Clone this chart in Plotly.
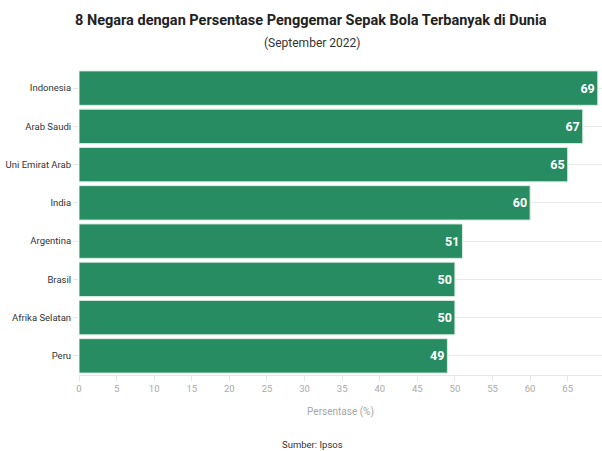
import plotly.graph_objects as go

countries = ["Indonesia", "Arab Saudi", "Uni Emirat Arab", "India", "Argentina", "Brasil", "Afrika Selatan", "Peru"]
values = [69, 67, 65, 60, 51, 50, 50, 49]
x_ticks = list(range(0, 70, 5))

FONT = "Roboto, sans-serif"

fig = go.Figure(go.Bar(
    y=countries, x=values, orientation="h",
    marker=dict(color="#288c62", line=dict(color="#d9ece2", width=1)),
    text=[str(v) for v in values], textposition="inside", insidetextanchor="end",
    textfont=dict(family=FONT, size=12.5, color="white", weight="bold"),
    width=0.9, cliponaxis=False,
))

fig.update_layout(
    width=602, height=451, autosize=False,
    margin=dict(l=79, r=0, t=69, b=76),
    plot_bgcolor="white", paper_bgcolor="white",
    font=dict(family=FONT, color="#333"),
    showlegend=False,
    uniformtext=dict(minsize=8, mode="show"),
    xaxis=dict(range=[0, 69.56], tickvals=x_ticks, showgrid=False, zeroline=False,
               ticks="outside", ticklen=5, tickcolor="#e6e6e6",
               showline=True, linecolor="#e6e6e6", linewidth=1,
               tickfont=dict(size=9.5, color="#aaaaaa"), automargin=False,
               title=dict(text="Persentase (%)", font=dict(size=10, color="#a6a6a6"), standoff=14)),
    yaxis=dict(categoryorder="array", categoryarray=countries, autorange="reversed",
               showgrid=True, gridcolor="#e9e9e9", ticks="outside", ticklen=5, tickcolor="#e6e6e6",
               tickfont=dict(size=9.5, color="#333"), zeroline=False, automargin=False),
    annotations=[
        dict(text="<b>8 Negara dengan Persentase Penggemar Sepak Bola Terbanyak di Dunia</b>",
             xref="paper", yref="paper", x=(311 - 79) / 523, y=(375 - 21) / 306,
             showarrow=False, font=dict(size=14.5, color="#222"), xanchor="center", yanchor="middle"),
        dict(text="(September 2022)", xref="paper", yref="paper", x=(312 - 79) / 523, y=(375 - 43) / 306,
             showarrow=False, font=dict(size=12, color="#333"), xanchor="center", yanchor="middle"),
        dict(text="Sumber: Ipsos", xref="paper", yref="paper", x=(312 - 79) / 523, y=(375 - 444) / 306,
             showarrow=False, font=dict(size=9.5, color="#333"), xanchor="center", yanchor="middle"),
    ],
)

fig.write_html("out.html")
